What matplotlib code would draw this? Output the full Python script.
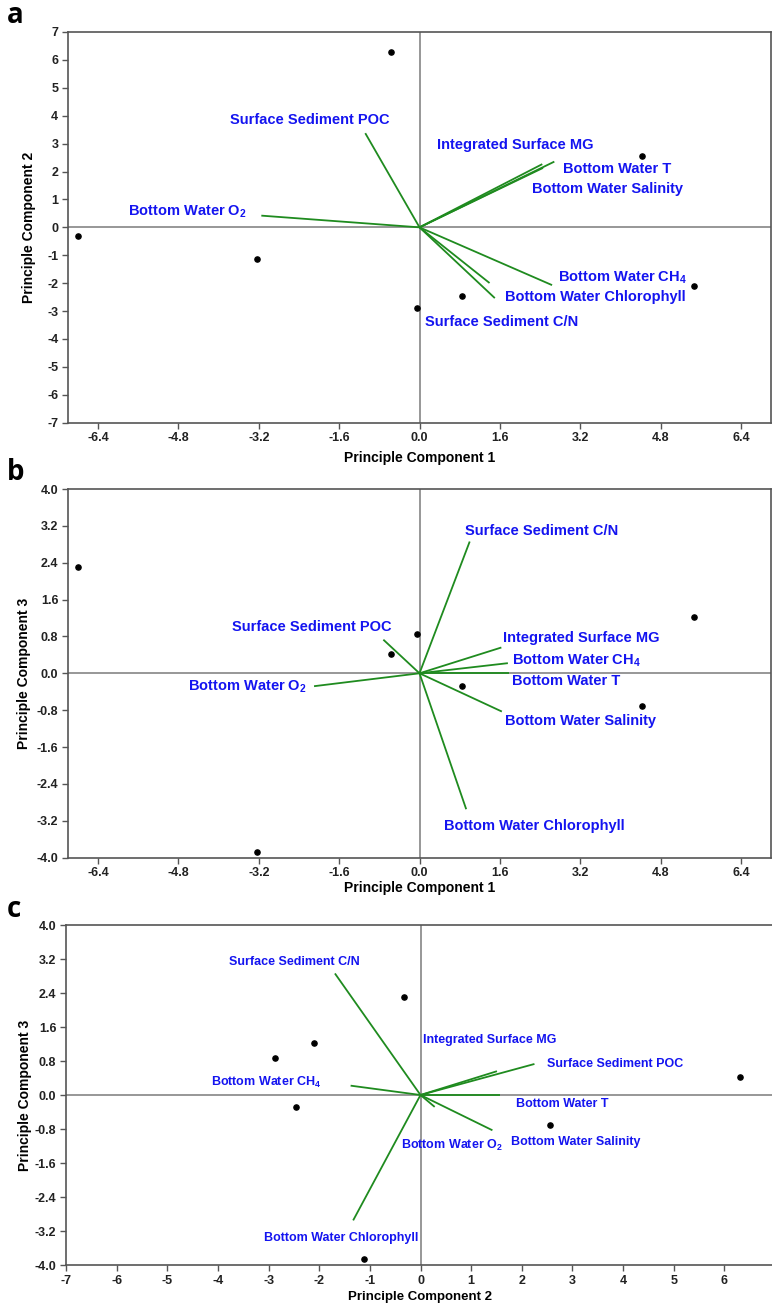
import matplotlib
matplotlib.use("Agg")
import matplotlib.pyplot as plt
from matplotlib import font_manager as fm

# ---------------- data ----------------
# sample scores
pc1_scores = [-6.80, -3.23, -0.56, -0.04, 0.85, 4.44, 5.46]
pc2_scores = [-0.32, -1.12, 6.30, -2.88, -2.45, 2.55, -2.11]
pc3_scores = [2.31, -3.87, 0.42, 0.86, -0.28, -0.71, 1.23]

# variable loadings (biplot vectors)
variables = ["Surface Sediment POC", "Bottom Water O$_2$", "Integrated Surface MG",
             "Bottom Water T", "Bottom Water Salinity", "Bottom Water CH$_4$",
             "Bottom Water Chlorophyll", "Surface Sediment C/N"]
load_pc1 = [-0.72, -2.10, 1.63, 1.79, 1.64, 1.76, 0.93, 1.00]
load_pc2 = [2.25, 0.28, 1.51, 1.57, 1.42, -1.38, -1.33, -1.69]
load_pc3 = [0.73, -0.28, 0.56, 0.00, -0.83, 0.22, -2.95, 2.86]
panel_a_vector_scale = 1.5

# tick labels
a_xticks = [-6.4, -4.8, -3.2, -1.6, 0.0, 1.6, 3.2, 4.8, 6.4]
a_yticks = [-7, -6, -5, -4, -3, -2, -1, 0, 1, 2, 3, 4, 5, 6, 7]
b_yticks = [-4.0, -3.2, -2.4, -1.6, -0.8, 0.0, 0.8, 1.6, 2.4, 3.2, 4.0]
c_xticks = [-7, -6, -5, -4, -3, -2, -1, 0, 1, 2, 3, 4, 5, 6]

# ---------------- style ----------------
names = {f.name for f in fm.fontManager.ttflist}
BOLD = "Liberation Sans" if "Liberation Sans" in names else "DejaVu Sans"
NARROW = "Liberation Sans Narrow" if "Liberation Sans Narrow" in names else BOLD
plt.rcParams["mathtext.default"] = "regular"

BLUE = "#1414f0"
GREEN = "#1f8b1f"
GRAY = "#7a7a7a"
SPINE = "#555555"

W, H = 772, 1305
fig = plt.figure(figsize=(W / 100, H / 100), dpi=100)


def px_axes(left, top, right, bottom):
    return fig.add_axes([left / W, 1 - bottom / H, (right - left) / W, (bottom - top) / H])


def style(ax, tickfont, ticksize):
    for s in ax.spines.values():
        s.set_color(SPINE)
        s.set_linewidth(1.2)
    ax.tick_params(direction="out", length=4, width=1.0, color=SPINE, pad=3,
                   top=False, right=False)
    for lab in ax.get_xticklabels() + ax.get_yticklabels():
        lab.set_fontfamily(tickfont)
        lab.set_fontweight("bold")
        lab.set_fontsize(ticksize)
        lab.set_color("#222222")
    ax.axhline(0, color=GRAY, lw=1.1, zorder=1)
    ax.axvline(0, color=GRAY, lw=1.1, zorder=1)


def draw(ax, xs, ys, lx, ly, labpos, font, size):
    for x, y in zip(lx, ly):
        ax.plot([0, x], [0, y], color=GREEN, lw=1.3, zorder=2, solid_capstyle="butt")
    ax.scatter(xs, ys, s=14, color="black", zorder=3)
    for name, (tx, ty) in zip(variables, labpos):
        ax.annotate(name, xy=(tx, ty), xytext=(0, -3.6), textcoords="offset points",
                    ha="left", va="baseline", color=BLUE, fontsize=size,
                    fontweight="bold", fontfamily=font, zorder=4)


# ---------------- panel a ----------------
axa = px_axes(68, 32, 771, 422.7)
axa.set_xlim(-7, 7)
axa.set_ylim(-7, 7)
axa.set_xticks(a_xticks)
axa.set_xticklabels([f"{v:.1f}" for v in a_xticks])
axa.set_yticks(a_yticks)
axa.set_yticklabels([str(v) for v in a_yticks])
labpos_a = [(-3.78, 3.88), (-5.8, 0.6), (0.34, 2.98), (2.85, 2.12),
            (2.24, 1.40), (2.75, -1.76), (1.71, -2.46), (0.11, -3.35)]
draw(axa, pc1_scores, pc2_scores,
     [v * panel_a_vector_scale for v in load_pc1],
     [v * panel_a_vector_scale for v in load_pc2], labpos_a, BOLD, 10.5)
style(axa, BOLD, 9)
axa.set_xlabel("Principle Component 1", fontfamily=BOLD, fontweight="bold",
               fontsize=10, labelpad=5)
axa.set_ylabel("Principle Component 2", fontfamily=BOLD, fontweight="bold",
               fontsize=10, labelpad=8)

# ---------------- panel b ----------------
axb = px_axes(68, 489, 771, 857.6)
axb.set_xlim(-7, 7)
axb.set_ylim(-4, 4)
axb.set_xticks(a_xticks)
axb.set_xticklabels([f"{v:.1f}" for v in a_xticks])
axb.set_yticks(b_yticks)
axb.set_yticklabels([f"{v:.1f}" for v in b_yticks])
labpos_b = [(-3.73, 1.03), (-4.61, -0.27), (1.66, 0.79), (1.84, -0.15),
            (1.71, -1.01), (1.85, 0.29), (0.48, -3.29), (0.91, 3.11)]
draw(axb, pc1_scores, pc3_scores, load_pc1, load_pc3, labpos_b, BOLD, 10.5)
style(axb, BOLD, 9)
axb.set_xlabel("Principle Component 1", fontfamily=BOLD, fontweight="bold",
               fontsize=10, labelpad=1)
axb.set_ylabel("Principle Component 3", fontfamily=BOLD, fontweight="bold",
               fontsize=10, labelpad=4)

# ---------------- panel c ----------------
axc = px_axes(66, 925, 775, 1265)
axc.set_xlim(-7, 7)
axc.set_ylim(-4, 4)
axc.set_xticks(c_xticks)
axc.set_xticklabels([str(v) for v in c_xticks])
axc.set_yticks(b_yticks)
axc.set_yticklabels([f"{v:.1f}" for v in b_yticks])
labpos_c = [(2.50, 0.77), (-0.38, -1.15), (0.04, 1.33), (1.89, -0.16),
            (1.79, -1.06), (-4.13, 0.34), (-3.10, -3.32), (-3.78, 3.18)]
draw(axc, pc2_scores, pc3_scores, load_pc2, load_pc3, labpos_c, NARROW, 9)
style(axc, NARROW, 9)
axc.set_xlabel("Principle Component 2", fontfamily=NARROW, fontweight="bold",
               fontsize=9.5, labelpad=3)
axc.set_ylabel("Principle Component 3", fontfamily=BOLD, fontweight="bold",
               fontsize=10, labelpad=2)

# ---------------- panel letters ----------------
for letter, base in (("a", 23), ("b", 480), ("c", 917)):
    fig.text(7 / W, 1 - base / H, letter, fontsize=20, fontweight="bold",
             fontfamily="Open Sans", ha="left", va="baseline")

fig.savefig("out.png", dpi=100)
